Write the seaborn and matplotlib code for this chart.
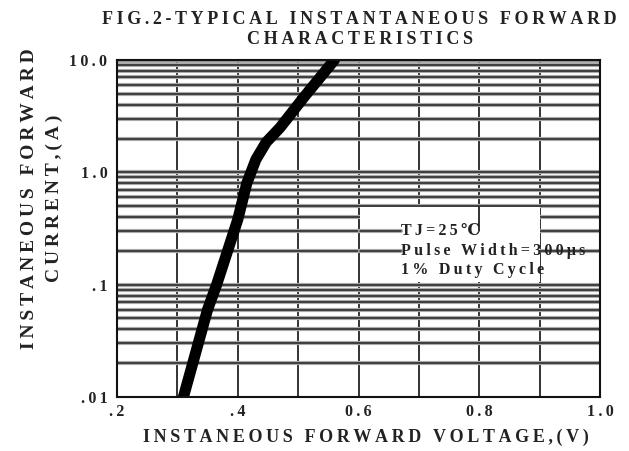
import numpy as np
import pandas as pd
import matplotlib
matplotlib.use("Agg")
import matplotlib.pyplot as plt
from matplotlib.patches import Rectangle
import seaborn as sns

# ---- data ----
voltage = [0.31, 0.35, 0.365, 0.40, 0.415, 0.43, 0.447, 0.47, 0.51, 0.56]
current = [0.01, 0.06, 0.1, 0.38, 0.8, 1.3, 1.85, 2.5, 4.7, 10.0]
x_ticks = [0.2, 0.4, 0.6, 0.8, 1.0]
x_tick_labels = [".2", ".4", "0.6", "0.8", "1.0"]
y_ticks = [0.01, 0.1, 1.0, 10.0]
y_tick_labels = [".01", ".1", "1.0", "10.0"]
title_lines = ["FIG.2-TYPICAL INSTANTANEOUS FORWARD", "CHARACTERISTICS"]
x_label = "INSTANEOUS FORWARD VOLTAGE,(V)"
y_label_lines = ["INSTANEOUS FORWARD", "CURRENT,(A)"]
notes = ["TJ=25\u2103", "Pulse Width=300\u03bcs", "1% Duty Cycle"]

SP = "\u2009"


def spaced(s, sp=SP):
    return sp.join(s)


sns.set_style("white")
plt.rcParams["font.family"] = ["Liberation Serif", "DejaVu Serif"]
plt.rcParams["font.weight"] = "bold"
TXT = "#222222"

df = pd.DataFrame({"V": voltage, "I": current})

fig = plt.figure(figsize=(6.29, 4.51), dpi=100)
ax = fig.add_axes([0.186, 0.1197, 0.768, 0.7473])
ax.set_yscale("log")
ax.set_xlim(0.2, 1.0)
ax.set_ylim(0.01, 10.0)

# grid
for xv in np.arange(0.3, 0.95, 0.1):
    ax.axvline(xv, color="#111111", lw=1.2, zorder=1)
box_lo, box_hi = 0.105, 0.49
for dec in [0.01, 0.1, 1.0]:
    for m in range(2, 11):
        yv = dec * m
        if yv >= 10.0:
            ax.axhline(yv, color="#999999", lw=4, zorder=1)
            continue
        ax.axhline(yv, color="#aaaaaa", lw=3.0, zorder=1)
        ax.axhline(yv, color="#222222", lw=1.1, zorder=1)

# white box behind annotation
ax.add_patch(Rectangle((0.603, box_lo), 0.297, box_hi - box_lo,
                       facecolor="white", edgecolor="none", zorder=2))
for yv, xe in [(0.3, 0.67), (0.2, 0.67)]:
    ax.plot([0.603, xe], [yv, yv], color="#aaaaaa", lw=3.0, zorder=2.1)
    ax.plot([0.603, xe], [yv, yv], color="#222222", lw=1.1, zorder=2.1)
ax.plot([0.80, 0.80], [0.3, box_hi], color="#111111", lw=1.2, zorder=2.1)

sns.lineplot(data=df, x="V", y="I", ax=ax, color="black", lw=8,
             solid_capstyle="round", solid_joinstyle="round", zorder=5)

for txt, yv in zip(notes, [0.30, 0.20, 0.134]):
    ax.text(0.67, yv, spaced(txt), fontsize=11.5, fontweight="bold", color=TXT,
            va="center", ha="left", zorder=3)

for s in ax.spines.values():
    s.set_color("#111111")
    s.set_linewidth(1.5)
    s.set_zorder(6)

ax.set_xticks(x_ticks)
ax.set_xticklabels([spaced(t) for t in x_tick_labels])
ax.set_yticks(y_ticks)
ax.set_yticklabels([spaced(t) for t in y_tick_labels])
ax.minorticks_off()
ax.tick_params(axis="y", length=0, labelsize=11.5, colors=TXT, pad=7)
ax.tick_params(axis="x", length=0, labelsize=11.5, colors=TXT, pad=5)
for lab in ax.get_xticklabels() + ax.get_yticklabels():
    lab.set_fontweight("bold")

ax.set_xlabel(spaced(x_label), fontsize=13, fontweight="bold", color=TXT)
ax.xaxis.label.set(va="center", ha="center")
ax.xaxis.set_label_coords(0.516, -0.119)

ax.set_ylabel(spaced(y_label_lines[0]) + "\n" + spaced(y_label_lines[1]),
              fontsize=14, fontweight="bold", color=TXT, linespacing=1.55)
ax.yaxis.label.set(va="center", ha="center", rotation_mode="default")
ax.yaxis.set_label_coords(-0.155, 0.59)

fig.text(0.572, 0.975, spaced(title_lines[0]) + "\n" + spaced(title_lines[1]),
         fontsize=13, fontweight="bold", color=TXT,
         ha="center", va="top", linespacing=1.2)

fig.savefig("out.png", dpi=100)
